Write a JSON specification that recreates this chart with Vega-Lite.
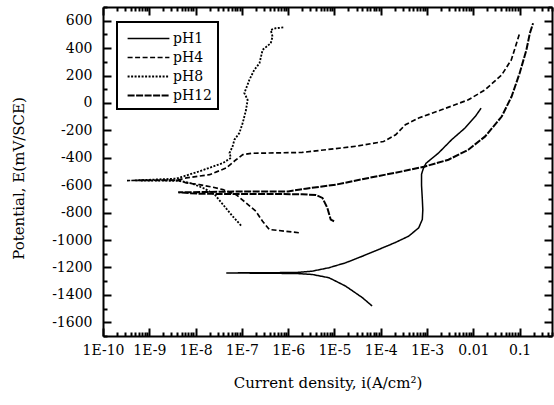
{
  "$schema": "https://vega.github.io/schema/vega-lite/v6.json",
  "width": 449,
  "height": 329,
  "autosize": "none",
  "padding": {"left": 103, "top": 7, "right": 2, "bottom": 69},
  "background": "white",
  "data": {
    "values": [
      {"s": "pH1", "k": 1, "i": 6.5e-5, "E": -1481},
      {"s": "pH1", "k": 2, "i": 4e-5, "E": -1420},
      {"s": "pH1", "k": 3, "i": 1.74e-5, "E": -1336},
      {"s": "pH1", "k": 4, "i": 7.6e-6, "E": -1275},
      {"s": "pH1", "k": 5, "i": 3.3e-6, "E": -1251},
      {"s": "pH1", "k": 6, "i": 1.5e-6, "E": -1244},
      {"s": "pH1", "k": 7, "i": 4.6e-8, "E": -1240},
      {"s": "pH1", "k": 8, "i": 1.5e-6, "E": -1237},
      {"s": "pH1", "k": 9, "i": 3.3e-6, "E": -1227},
      {"s": "pH1", "k": 10, "i": 7.6e-6, "E": -1202},
      {"s": "pH1", "k": 11, "i": 1.74e-5, "E": -1166},
      {"s": "pH1", "k": 12, "i": 4e-5, "E": -1118},
      {"s": "pH1", "k": 13, "i": 9e-5, "E": -1069},
      {"s": "pH1", "k": 14, "i": 2e-4, "E": -1020},
      {"s": "pH1", "k": 15, "i": 4e-4, "E": -972},
      {"s": "pH1", "k": 16, "i": 6.6e-4, "E": -911},
      {"s": "pH1", "k": 17, "i": 7.9e-4, "E": -850},
      {"s": "pH1", "k": 18, "i": 8.1e-4, "E": -780},
      {"s": "pH1", "k": 19, "i": 7.9e-4, "E": -700},
      {"s": "pH1", "k": 20, "i": 7.6e-4, "E": -600},
      {"s": "pH1", "k": 21, "i": 7.6e-4, "E": -520},
      {"s": "pH1", "k": 22, "i": 8.3e-4, "E": -478},
      {"s": "pH1", "k": 23, "i": 9.5e-4, "E": -440},
      {"s": "pH1", "k": 24, "i": 1.77e-3, "E": -365},
      {"s": "pH1", "k": 25, "i": 3.4e-3, "E": -268},
      {"s": "pH1", "k": 26, "i": 6.6e-3, "E": -183},
      {"s": "pH1", "k": 27, "i": 0.011, "E": -99},
      {"s": "pH1", "k": 28, "i": 0.0147, "E": -38},

      {"s": "pH4", "k": 1, "i": 1.7e-6, "E": -947},
      {"s": "pH4", "k": 2, "i": 8.9e-7, "E": -936},
      {"s": "pH4", "k": 3, "i": 3.9e-7, "E": -923},
      {"s": "pH4", "k": 4, "i": 2.8e-7, "E": -863},
      {"s": "pH4", "k": 5, "i": 2e-7, "E": -790},
      {"s": "pH4", "k": 6, "i": 1.23e-7, "E": -729},
      {"s": "pH4", "k": 7, "i": 7.5e-8, "E": -669},
      {"s": "pH4", "k": 8, "i": 3.9e-8, "E": -632},
      {"s": "pH4", "k": 9, "i": 2.4e-8, "E": -615},
      {"s": "pH4", "k": 10, "i": 1.2e-8, "E": -596},
      {"s": "pH4", "k": 11, "i": 6.3e-9, "E": -583},
      {"s": "pH4", "k": 12, "i": 3.85e-9, "E": -562},
      {"s": "pH4", "k": 13, "i": 3.3e-10, "E": -566},
      {"s": "pH4", "k": 14, "i": 3.85e-9, "E": -564},
      {"s": "pH4", "k": 15, "i": 6.3e-9, "E": -547},
      {"s": "pH4", "k": 16, "i": 2e-8, "E": -523},
      {"s": "pH4", "k": 17, "i": 4.6e-8, "E": -474},
      {"s": "pH4", "k": 18, "i": 7.5e-8, "E": -414},
      {"s": "pH4", "k": 19, "i": 1.05e-7, "E": -377},
      {"s": "pH4", "k": 20, "i": 1.6e-7, "E": -367},
      {"s": "pH4", "k": 21, "i": 3.9e-7, "E": -365},
      {"s": "pH4", "k": 22, "i": 2e-6, "E": -361},
      {"s": "pH4", "k": 23, "i": 6.6e-6, "E": -341},
      {"s": "pH4", "k": 24, "i": 2.9e-5, "E": -316},
      {"s": "pH4", "k": 25, "i": 1.15e-4, "E": -281},
      {"s": "pH4", "k": 26, "i": 2.1e-4, "E": -232},
      {"s": "pH4", "k": 27, "i": 3.4e-4, "E": -159},
      {"s": "pH4", "k": 28, "i": 6.6e-4, "E": -110},
      {"s": "pH4", "k": 29, "i": 2.05e-3, "E": -50},
      {"s": "pH4", "k": 30, "i": 7.8e-3, "E": 23},
      {"s": "pH4", "k": 31, "i": 0.018, "E": 96},
      {"s": "pH4", "k": 32, "i": 0.041, "E": 205},
      {"s": "pH4", "k": 33, "i": 0.066, "E": 314},
      {"s": "pH4", "k": 34, "i": 0.1, "E": 508},

      {"s": "pH8", "k": 1, "i": 9.6e-8, "E": -894},
      {"s": "pH8", "k": 2, "i": 6.3e-8, "E": -826},
      {"s": "pH8", "k": 3, "i": 3.9e-8, "E": -741},
      {"s": "pH8", "k": 4, "i": 2.6e-8, "E": -669},
      {"s": "pH8", "k": 5, "i": 1.5e-8, "E": -622},
      {"s": "pH8", "k": 6, "i": 8e-9, "E": -586},
      {"s": "pH8", "k": 7, "i": 4.5e-9, "E": -568},
      {"s": "pH8", "k": 8, "i": 5e-10, "E": -565},
      {"s": "pH8", "k": 9, "i": 3.85e-9, "E": -552},
      {"s": "pH8", "k": 10, "i": 1.2e-8, "E": -499},
      {"s": "pH8", "k": 11, "i": 3.9e-8, "E": -438},
      {"s": "pH8", "k": 12, "i": 5.8e-8, "E": -401},
      {"s": "pH8", "k": 13, "i": 5.4e-8, "E": -365},
      {"s": "pH8", "k": 14, "i": 6.3e-8, "E": -317},
      {"s": "pH8", "k": 15, "i": 6.9e-8, "E": -268},
      {"s": "pH8", "k": 16, "i": 8.8e-8, "E": -220},
      {"s": "pH8", "k": 17, "i": 1.04e-7, "E": -147},
      {"s": "pH8", "k": 18, "i": 1.23e-7, "E": -50},
      {"s": "pH8", "k": 19, "i": 1.33e-7, "E": 23},
      {"s": "pH8", "k": 20, "i": 1.13e-7, "E": 72},
      {"s": "pH8", "k": 21, "i": 1.45e-7, "E": 168},
      {"s": "pH8", "k": 22, "i": 1.85e-7, "E": 241},
      {"s": "pH8", "k": 23, "i": 2.4e-7, "E": 290},
      {"s": "pH8", "k": 24, "i": 2.8e-7, "E": 387},
      {"s": "pH8", "k": 25, "i": 4.2e-7, "E": 436},
      {"s": "pH8", "k": 26, "i": 4.6e-7, "E": 484},
      {"s": "pH8", "k": 27, "i": 4.2e-7, "E": 532},
      {"s": "pH8", "k": 28, "i": 5.4e-7, "E": 545},
      {"s": "pH8", "k": 29, "i": 8.2e-7, "E": 552},

      {"s": "pH12", "k": 1, "i": 9.8e-6, "E": -863},
      {"s": "pH12", "k": 2, "i": 8.3e-6, "E": -851},
      {"s": "pH12", "k": 3, "i": 7e-6, "E": -765},
      {"s": "pH12", "k": 4, "i": 5.5e-6, "E": -693},
      {"s": "pH12", "k": 5, "i": 4e-6, "E": -672},
      {"s": "pH12", "k": 6, "i": 2e-6, "E": -666},
      {"s": "pH12", "k": 7, "i": 3e-7, "E": -664},
      {"s": "pH12", "k": 8, "i": 1.3e-8, "E": -663},
      {"s": "pH12", "k": 9, "i": 4.2e-9, "E": -652},
      {"s": "pH12", "k": 10, "i": 1e-7, "E": -646},
      {"s": "pH12", "k": 11, "i": 1e-6, "E": -645},
      {"s": "pH12", "k": 12, "i": 2.4e-6, "E": -625},
      {"s": "pH12", "k": 13, "i": 1.07e-5, "E": -596},
      {"s": "pH12", "k": 14, "i": 5.5e-5, "E": -547},
      {"s": "pH12", "k": 15, "i": 2.9e-4, "E": -499},
      {"s": "pH12", "k": 16, "i": 9.1e-4, "E": -463},
      {"s": "pH12", "k": 17, "i": 2.9e-3, "E": -414},
      {"s": "pH12", "k": 18, "i": 7.8e-3, "E": -341},
      {"s": "pH12", "k": 19, "i": 0.018, "E": -244},
      {"s": "pH12", "k": 20, "i": 0.041, "E": -99},
      {"s": "pH12", "k": 21, "i": 0.067, "E": 47},
      {"s": "pH12", "k": 22, "i": 0.1, "E": 217},
      {"s": "pH12", "k": 23, "i": 0.14, "E": 387},
      {"s": "pH12", "k": 24, "i": 0.166, "E": 508},
      {"s": "pH12", "k": 25, "i": 0.195, "E": 581}
    ]
  },
  "resolve": {"axis": {"x": "independent", "y": "independent"}},
  "layer": [
    {
      "mark": {"type": "line", "color": "black", "strokeCap": "butt", "strokeJoin": "miter"},
      "encoding": {
        "x": {
          "field": "i",
          "type": "quantitative",
          "scale": {"type": "log", "domain": [1e-10, 0.5], "nice": false},
          "axis": {
            "orient": "bottom",
            "values": [1e-10,2e-10,3e-10,4e-10,5e-10,6e-10,7e-10,8e-10,9e-10,1e-9,2e-9,3e-9,4e-9,5e-9,6e-9,7e-9,8e-9,9e-9,1e-8,2e-8,3e-8,4e-8,5e-8,6e-8,7e-8,8e-8,9e-8,1e-7,2e-7,3e-7,4e-7,5e-7,6e-7,7e-7,8e-7,9e-7,1e-6,2e-6,3e-6,4e-6,5e-6,6e-6,7e-6,8e-6,9e-6,1e-5,2e-5,3e-5,4e-5,5e-5,6e-5,7e-5,8e-5,9e-5,1e-4,2e-4,3e-4,4e-4,5e-4,6e-4,7e-4,8e-4,9e-4,1e-3,2e-3,3e-3,4e-3,5e-3,6e-3,7e-3,8e-3,9e-3,0.01,0.02,0.03,0.04,0.05,0.06,0.07,0.08,0.09,0.1,0.2,0.3,0.4,0.5],
            "labelExpr": "abs(log(datum.value)/LN10 - round(log(datum.value)/LN10)) < 0.01 ? (datum.value > 0.005 ? (datum.value > 0.05 ? '0.1' : '0.01') : '1E-' + round(-log(datum.value)/LN10)) : ''",
            "tickSize": -8,
            "tickDash": {"condition": {"test": "abs(log(datum.value)/LN10 - round(log(datum.value)/LN10)) < 0.01", "value": []}, "value": [4, 20]},
            "labelPadding": 15,
            "labelFlush": false,
            "labelOverlap": false,
            "title": "Current density, i(A/cm²)",
            "titleY": 46,
            "titleBaseline": "middle"
          }
        },
        "y": {
          "field": "E",
          "type": "quantitative",
          "scale": {"domain": [-1700, 700], "nice": false, "zero": false},
          "axis": {
            "orient": "left",
            "values": [-1700,-1600,-1500,-1400,-1300,-1200,-1100,-1000,-900,-800,-700,-600,-500,-400,-300,-200,-100,0,100,200,300,400,500,600,700],
            "labelExpr": "(datum.value % 200 == 0 && datum.value <= 600 && datum.value >= -1600) ? '' + datum.value : ''",
            "tickSize": -8,
            "tickDash": {"condition": {"test": "datum.value % 200 == 0", "value": []}, "value": [4, 20]},
            "labelPadding": 19,
            "labelOverlap": false,
            "title": "Potential, E(mV/SCE)",
            "titleX": -85,
            "titleY": 171,
            "titleAngle": 270,
            "titleBaseline": "middle"
          }
        },
        "order": {"field": "k", "type": "quantitative"},
        "strokeDash": {
          "field": "s",
          "type": "nominal",
          "scale": {"domain": ["pH1", "pH4", "pH8", "pH12"], "range": [[1, 0], [5, 2.5], [2, 1.5], [7, 1.5]]},
          "legend": {"title": null}
        },
        "strokeWidth": {
          "field": "s",
          "type": "nominal",
          "scale": {"domain": ["pH1", "pH4", "pH8", "pH12"], "range": [1.5, 2, 1, 2.5]},
          "legend": {"title": null}
        }
      }
    },
    {
      "mark": {"type": "point", "opacity": 0},
      "encoding": {
        "x": {
          "field": "i",
          "type": "quantitative",
          "scale": {"type": "log", "domain": [1e-10, 0.5], "nice": false},
          "axis": {
            "orient": "top",
            "values": [1e-10,2e-10,3e-10,4e-10,5e-10,6e-10,7e-10,8e-10,9e-10,1e-9,2e-9,3e-9,4e-9,5e-9,6e-9,7e-9,8e-9,9e-9,1e-8,2e-8,3e-8,4e-8,5e-8,6e-8,7e-8,8e-8,9e-8,1e-7,2e-7,3e-7,4e-7,5e-7,6e-7,7e-7,8e-7,9e-7,1e-6,2e-6,3e-6,4e-6,5e-6,6e-6,7e-6,8e-6,9e-6,1e-5,2e-5,3e-5,4e-5,5e-5,6e-5,7e-5,8e-5,9e-5,1e-4,2e-4,3e-4,4e-4,5e-4,6e-4,7e-4,8e-4,9e-4,1e-3,2e-3,3e-3,4e-3,5e-3,6e-3,7e-3,8e-3,9e-3,0.01,0.02,0.03,0.04,0.05,0.06,0.07,0.08,0.09,0.1,0.2,0.3,0.4,0.5],
            "labels": false,
            "tickSize": -8,
            "tickDash": {"condition": {"test": "abs(log(datum.value)/LN10 - round(log(datum.value)/LN10)) < 0.01", "value": []}, "value": [4, 20]},
            "title": null
          }
        },
        "y": {
          "field": "E",
          "type": "quantitative",
          "scale": {"domain": [-1700, 700], "nice": false, "zero": false},
          "axis": {
            "orient": "right",
            "values": [-1700,-1600,-1500,-1400,-1300,-1200,-1100,-1000,-900,-800,-700,-600,-500,-400,-300,-200,-100,0,100,200,300,400,500,600,700],
            "labels": false,
            "tickSize": -8,
            "tickDash": {"condition": {"test": "datum.value % 200 == 0", "value": []}, "value": [4, 20]},
            "title": null
          }
        }
      }
    }
  ],
  "config": {
    "view": {"stroke": null},
    "axis": {
      "grid": false,
      "domainColor": "black",
      "domainWidth": 2,
      "tickColor": "black",
      "tickWidth": 2,
      "labelColor": "black",
      "titleColor": "black",
      "labelFont": "DejaVu Serif, serif",
      "titleFont": "DejaVu Serif, serif",
      "labelFontSize": 14,
      "titleFontSize": 15,
      "titleFontWeight": "normal"
    },
    "legend": {
      "orient": "none",
      "legendX": 14,
      "legendY": 15,
      "strokeColor": "black",
      "strokeWidth": 2,
      "fillColor": "white",
      "padding": 6,
      "symbolType": "M-2.2,0H2.2",
      "symbolSize": 361,
      "symbolOffset": 15,
      "symbolStrokeColor": "black",
      "labelFont": "DejaVu Serif, serif",
      "labelFontSize": 14,
      "labelColor": "black",
      "labelOffset": 14,
      "rowPadding": 1
    }
  }
}
